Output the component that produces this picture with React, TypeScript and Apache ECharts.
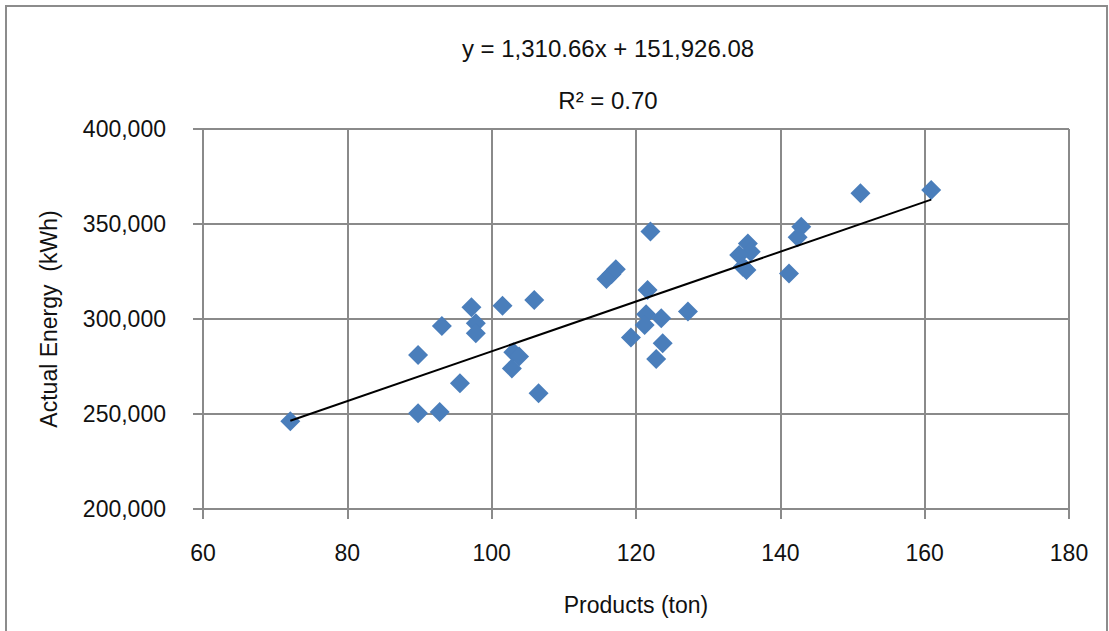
import React, { useEffect, useRef } from "react";
import * as echarts from "echarts";

const products = [72.1, 89.8, 92.8, 89.8, 95.6, 93.1, 97.2, 97.8, 97.8, 101.5, 105.9, 103.0, 103.8, 102.8, 106.5, 122.0, 115.9, 116.6, 117.2, 121.6, 121.4, 121.2, 123.5, 119.3, 123.7, 122.8, 127.2, 135.5, 135.9, 134.3, 134.8, 135.3, 141.2, 142.9, 142.4, 151.1, 160.9];
const energy = [246200, 250400, 251000, 281000, 266200, 296300, 306200, 297700, 292500, 307000, 310000, 282500, 280200, 274000, 260900, 346000, 321000, 323500, 326200, 315300, 302500, 296800, 300400, 290200, 287200, 278900, 303900, 339800, 335400, 333700, 327500, 325800, 324000, 348600, 343000, 366200, 367900];
const slope = 1310.66;
const intercept = 151926.08;
const equationText = "y = 1,310.66x + 151,926.08";
const r2Text = "R² = 0.70";
const xTitle = "Products (ton)";
const yTitle = "Actual Energy  (kWh)";

const FONT = "'Liberation Sans', Arial, sans-serif";

export default function App() {
  const ref = useRef<HTMLDivElement>(null);
  useEffect(() => {
    if (!ref.current) return;
    const chart = echarts.init(ref.current, undefined, { renderer: "svg" });
    const xMin = Math.min(...products);
    const xMax = Math.max(...products);
    const trend = [
      [xMin, slope * xMin + intercept],
      [xMax, slope * xMax + intercept],
    ];
    const grid = "#8a8a8a";
    chart.setOption({
      animation: false,
      backgroundColor: "#ffffff",
      textStyle: { fontFamily: FONT },
      grid: { left: 203, right: 40, top: 129, bottom: 122, containLabel: false },
      graphic: [
        {
          type: "rect",
          shape: { x: 6, y: 6, width: 1101, height: 700 },
          style: { fill: "none", stroke: "#8c8c8c", lineWidth: 2 },
          silent: true,
        },
        {
          type: "text",
          x: 608,
          y: 48,
          style: { text: equationText, fill: "#111", font: `24px ${FONT}`, textAlign: "center", textVerticalAlign: "middle" },
        },
        {
          type: "text",
          x: 608,
          y: 100,
          style: { text: r2Text, fill: "#111", font: `24px ${FONT}`, textAlign: "center", textVerticalAlign: "middle" },
        },
      ],
      xAxis: {
        type: "value",
        min: 60,
        max: 180,
        interval: 20,
        name: xTitle,
        nameLocation: "middle",
        nameGap: 84,
        nameTextStyle: { fontSize: 23, color: "#111", fontFamily: FONT },
        axisLine: { show: true, lineStyle: { color: grid, width: 2 } },
        axisTick: { show: true, length: 10, lineStyle: { color: grid, width: 2 } },
        axisLabel: { fontSize: 23, color: "#111", margin: 32, fontFamily: FONT },
        splitLine: { show: true, lineStyle: { color: grid, width: 2 } },
      },
      yAxis: {
        type: "value",
        min: 200000,
        max: 400000,
        interval: 50000,
        name: yTitle,
        nameLocation: "middle",
        nameGap: 143,
        nameTextStyle: { fontSize: 23, color: "#111", fontFamily: FONT },
        axisLine: { show: true, lineStyle: { color: grid, width: 2 } },
        axisTick: { show: true, length: 10, lineStyle: { color: grid, width: 2 } },
        axisLabel: {
          fontSize: 23,
          color: "#111",
          margin: 37,
          fontFamily: FONT,
          formatter: (v: number) => v.toLocaleString("en-US"),
        },
        splitLine: { show: true, lineStyle: { color: grid, width: 2 } },
      },
      series: [
        {
          type: "scatter",
          data: products.map((x, i) => [x, energy[i]]),
          symbol: "diamond",
          symbolSize: 20,
          itemStyle: { color: "#4a7ebb", opacity: 1 },
          z: 3,
        },
        {
          type: "line",
          data: trend,
          showSymbol: false,
          symbol: "none",
          lineStyle: { color: "#000", width: 2 },
          z: 4,
        },
      ],
    });
    return () => chart.dispose();
  }, []);
  return (
    <div
      ref={ref}
      style={{ position: "fixed", left: 0, top: 0, width: 1109, height: 631, background: "#fff" }}
    />
  );
}
